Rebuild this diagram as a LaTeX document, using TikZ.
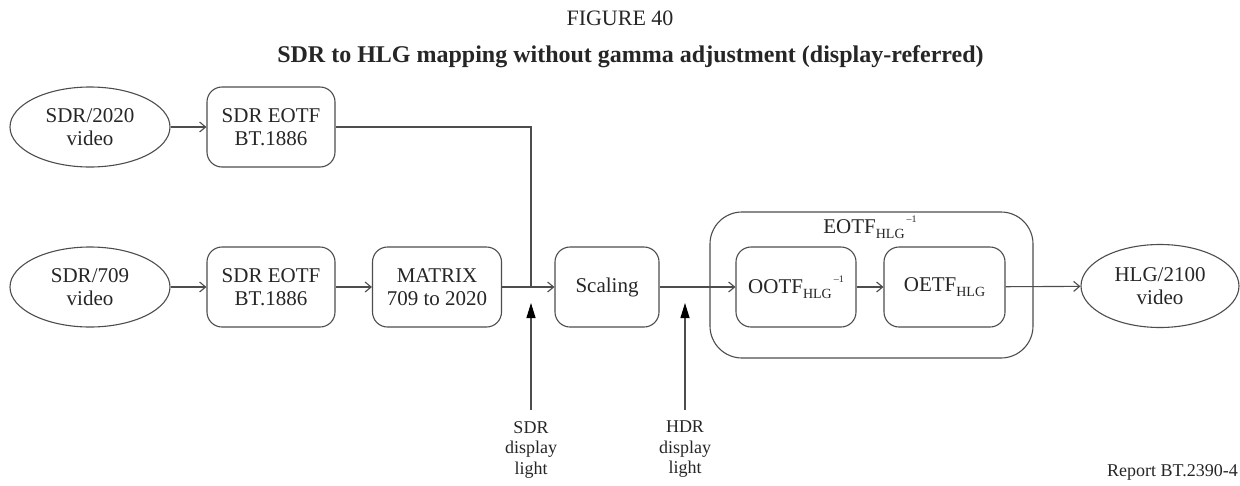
\documentclass[tikz,border=0pt]{standalone}
\usepackage{fontspec}
\setmainfont{Liberation Serif}
\usetikzlibrary{arrows.meta,shapes.geometric}
\definecolor{ln}{HTML}{4D4D4D}
\definecolor{tx}{HTML}{262626}
\newcommand\hlgsub{{\fontsize{14}{14}\selectfont\raisebox{-5pt}{HLG}}}
\newcommand\invsup{\raisebox{11pt}{\fontsize{10}{10}\selectfont\kern2pt\textendash1}}
\begin{document}
\begin{tikzpicture}[x=1pt,y=-1pt,
  every node/.style={text=tx},
  base/.style={draw=ln, line width=1.1pt, align=center, inner sep=0pt, font=\fontsize{21}{23}\selectfont},
  blk/.style={base, rounded corners=15pt, minimum height=80pt},
  ell/.style={base, ellipse, minimum height=80pt, minimum width=160pt},
  wire/.style={draw=ln, line width=1.1pt},
  flow/.style={wire, -{Straight Barb[length=6pt,width=10pt]}},
  up/.style={wire, -{Triangle[length=15pt,width=9pt,color=black]}},
  lbl/.style={font=\fontsize{18}{20.5}\selectfont, align=center, inner sep=0pt}]
\useasboundingbox[fill=white] (0,0) rectangle (1240,485);

\node[font=\fontsize{22}{24}\selectfont, anchor=base, inner sep=0pt] (fig) at (620,25) {FIGURE 40};
\node[font=\bfseries\fontsize{24}{26}\selectfont, anchor=base, inner sep=0pt] (ttl) at (630.5,62) {SDR to HLG mapping without gamma adjustment (display-referred)};

\node[ell] (s2020) at (90,127) {SDR/2020\\video};
\node[blk, minimum width=128pt] (eotf1) at (271,127) {SDR EOTF\\BT.1886};
\node[ell] (s709) at (90,287) {SDR/709\\video};
\node[blk, minimum width=128pt] (eotf2) at (271,287) {SDR EOTF\\BT.1886};
\node[blk, minimum width=129pt] (mat) at (437,287) {MATRIX\\709 to 2020};
\node[blk, minimum width=104pt] (scal) at (607,287) {Scaling};
\node[draw=ln, line width=1.1pt, rounded corners=32pt, minimum width=323pt, minimum height=146pt, inner sep=0pt] (outer) at (871.5,285) {};
\node[font=\fontsize{21}{23}\selectfont, anchor=base, inner sep=0pt] (eotfl) at (870,233) {EOTF\hlgsub\invsup};
\node[blk, minimum width=120pt] (ootf) at (796,287) {OOTF\hlgsub\invsup};
\node[blk, minimum width=121pt] (oetf) at (944.5,287) {OETF\hlgsub};
\node[ell, minimum width=158pt, minimum height=83pt] (hlg) at (1160,286) {HLG/2100\\video};

\coordinate (j1) at (531,287);
\coordinate (t1) at (531,303);
\coordinate (t2) at (685,303);

\node[lbl, anchor=north] (sdrl) at (531,421) {SDR\\display\\light};
\node[lbl, anchor=north] (hdrl) at (685,421) {HDR\\display\\light};
\node[font=\fontsize{18}{20}\selectfont, anchor=base east, inner sep=0pt] (rep) at (1238,476) {Report BT.2390-4};

\draw[flow] (s2020) -- (eotf1);
\draw[wire] (eotf1.east) -| (j1);
\draw[flow] (s709) -- (eotf2);
\draw[flow] (eotf2) -- (mat);
\draw[flow] (mat) -- (scal);
\draw[flow] (scal) -- (ootf);
\draw[flow] (ootf) -- (oetf);
\draw[flow] (oetf) -- (hlg);
\draw[up] ([yshift=11pt]sdrl.north) -- (t1);
\draw[up] ([yshift=11pt]hdrl.north) -- (t2);
\end{tikzpicture}
\end{document}
